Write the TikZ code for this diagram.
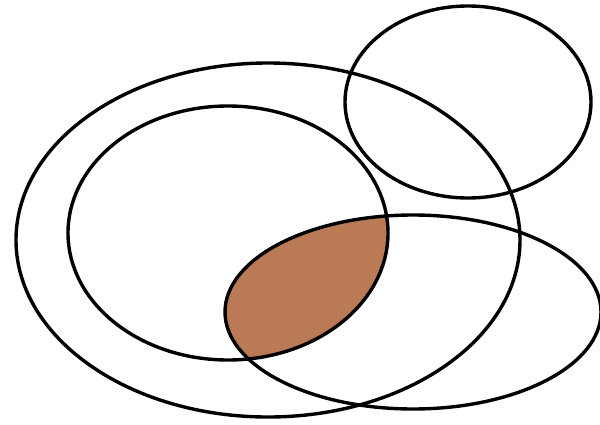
\documentclass[tikz,border=0pt]{standalone}
\begin{document}
\begin{tikzpicture}[x=0.5mm,y=-0.5mm,
  ring/.style={draw=black,line width=1.7mm}]
\definecolor{brownfill}{RGB}{186,122,86}
\useasboundingbox[fill=white] (0,0) rectangle (600,424);
% shaded intersection
\begin{scope}
  \clip (228,233) ellipse [x radius=160,y radius=127];
  \fill[brownfill] (413,312) ellipse [x radius=188,y radius=97];
\end{scope}
\draw[ring] (268,240) ellipse [x radius=252,y radius=177];
\draw[ring] (228,233) ellipse [x radius=160,y radius=127];
\draw[ring] (468,102) ellipse [x radius=123,y radius=96];
\draw[ring] (413,312) ellipse [x radius=188,y radius=97];
\end{tikzpicture}
\end{document}
